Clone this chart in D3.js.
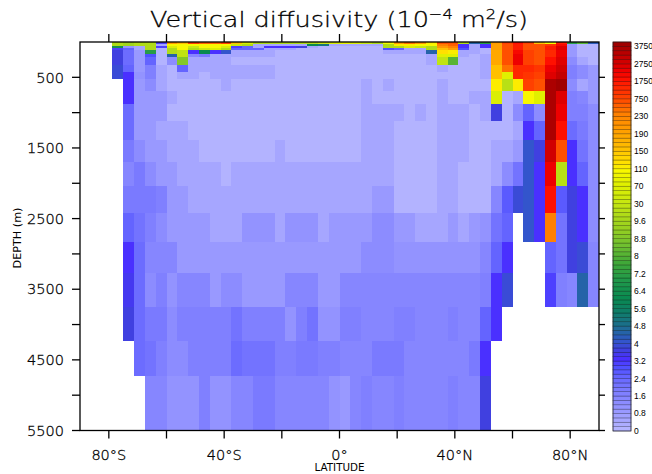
<!DOCTYPE html>
<html>
<head>
<meta charset="utf-8">
<script src="https://cdn.jsdelivr.net/npm/d3@7"></script>
<style>
  html, body { margin: 0; padding: 0; background: #fff; }
  svg { display: block; }
  text { font-family: "DejaVu Sans ExtraLight", "DejaVu Sans", sans-serif; font-weight: 200; fill: #000; }
  .thin { stroke: #000; stroke-width: 0.3px; }
</style>
</head>
<body>
<svg id="chart" width="652" height="474"></svg>
<script>
// grid cell edges (latitude columns from 78.75S, depth layers in m)
const latEdges = [-78.75, -75, -71.25, -67.5, -63.75, -60, -56.25, -52.5, -48.75, -45,
  -41.25, -37.5, -33.75, -30, -26.25, -22.5, -18.75, -15, -11.25, -7.5, -3.75, 0,
  3.75, 7.5, 11.25, 15, 18.75, 22.5, 26.25, 30, 33.75, 37.5, 41.25, 45, 48.75, 52.5,
  56.25, 60, 63.75, 67.5, 71.25, 75, 78.75, 82.5, 86.25, 90]
const depthEdges = [0, 32, 57, 85, 113, 165, 217, 326, 420, 524, 693, 877, 1118, 1387,
  1694, 2038, 2416, 2831, 3269, 3746, 4231, 4727, 5505]

// vertical diffusivity (1e-4 m2/s), one row per layer, null = land
const kv = [
  [9.8,9.5,9.8,9.8,3.0,  200,160,800,250,250,  900,150,60,9.8,9.8,  9.8,9.8,9.8,9.8,30,  60,80,60,30,9.8,  100,200,240,200,110,  700,700,9.8,4.5,7,  200,800,1800,800,150,  105,1500,7,8,4.3],
  [9.8,9.5,9.8,9.8,0.5,  100,105,105,105,105,  100,30,9.8,0.5,0.5,  0.5,0.5,0.5,6,5,  0.5,0.5,0.5,0.5,0.5,  9.8,110,110,100,105,  230,300,3.3,0.5,3.3,  190,700,1500,700,500,  1000,2000,0.9,0.1,0.1],
  [6.5,1.0,0.5,9.8,3.0,  60,105,30,105,105,  60,3.0,2.5,0.5,3.3,  3.3,3.3,3.7,0.5,0.1,  0.1,0.1,0.1,0.1,0.1,  9.8,9.8,60,30,9.8,  200,230,3.3,0.5,3.3,  190,700,1500,700,700,  1500,2500,0.9,0.1,0.1],
  [3.0,2.5,0.5,9.8,0.1,  9.8,100,9.8,30,60,  9.8,2.5,2.5,2.5,0.5,  0.5,0.5,0.1,0.1,0.1,  0.1,0.1,0.1,0.1,0.1,  2.9,2.5,0.5,0.5,9.8,  150,190,2.9,0.5,0.1,  190,700,1500,700,700,  1500,2500,0.9,0.1,0.1],
  [3.6,2.3,0.9,7.0,0.1,  9.8,25,3.3,6.0,3.3,  4.1,0.5,0.5,0.5,0.5,  0.1,0.1,0.1,0.1,0.1,  0.1,0.1,0.1,0.1,0.1,  0.5,0.5,0.5,0.5,4.5,  120,110,0.5,0.5,0.1,  180,700,2000,800,500,  1400,2300,0.9,0.1,0.1],
  [3.6,2.3,0.9,2.9,0.1,  4.5,20,1.5,1.9,0.5,  0.5,0.5,0.5,0.5,0.5,  0.1,0.1,0.1,0.1,0.1,  0.1,0.1,0.1,0.1,0.1,  0.1,0.1,0.1,0.1,0.5,  70,70,0.5,0.1,0.5,  180,700,2300,900,500,  1400,2300,0.9,0.1,0.1],
  [3.6,2.3,0.9,2.5,0.1,  1.3,8.8,0.5,0.5,0.5,  0.5,0.1,0.1,0.1,0.1,  0.1,0.1,0.1,0.1,0.1,  0.1,0.1,0.1,0.1,0.1,  0.1,0.1,0.1,0.1,0.5,  20,8.2,0.1,0.1,0.5,  180,700,2300,900,700,  1800,2500,1.3,0.5,0.1],
  [3.9,2.5,0.9,1.7,0.5,  0.1,2.5,0.5,0.5,0.5,  0.5,0.5,0.5,0.5,0.5,  0.1,0.1,0.1,0.1,0.1,  0.1,0.1,0.1,0.1,0.1,  0.1,0.1,0.1,0.1,0.1,  0.5,0.1,0.1,0.1,0.5,  150,240,1400,1300,1000,  2300,2800,1.7,1.3,0.9],
  [3.9,3.3,1.0,1.7,0.5,  0.1,0.5,0.5,0.1,0.5,  0.5,0.5,0.5,0.5,0.5,  0.1,0.1,0.1,0.1,0.1,  0.1,0.1,0.1,0.1,0.1,  0.1,0.1,0.1,0.1,0.1,  0.1,0.1,0.1,0.1,0.5,  150,70,1300,1200,900,  2600,3000,1.7,1.3,0.9],
  [null,3.3,0.9,1.3,0.5,  0.1,0.1,0.1,0.1,0.1,  0.5,0.1,0.1,0.1,0.1,  0.1,0.1,0.1,0.1,0.1,  0.1,0.1,0.1,0.5,0.1,  0.5,0.1,0.1,0.1,0.1,  0.5,0.1,0.1,0.1,0.1,  110,15,110,750,650,  3500,3800,1.3,0.5,0.9],
  [null,3.3,0.9,0.9,0.9,  0.5,0.1,0.1,0.1,0.1,  0.1,0.1,0.1,0.1,0.1,  0.1,0.1,0.1,0.1,0.1,  0.1,0.1,0.1,0.5,0.1,  0.1,0.1,0.1,0.1,0.1,  0.5,0.1,0.1,0.5,0.5,  60,0.1,0.5,100,70,  3500,2700,1.7,1.5,0.9],
  [null,2.2,0.9,0.9,0.9,  0.1,0.1,0.1,0.1,0.1,  0.1,0.1,0.1,0.1,0.1,  0.1,0.1,0.1,0.1,0.1,  0.1,0.1,0.1,0.5,0.5,  0.5,0.5,0.1,0.5,0.1,  0.5,0.5,0.5,0.1,0.5,  3.7,0.1,1.3,2.5,1.3,  3500,2300,1.7,1.7,1.3],
  [null,2.2,0.9,0.9,0.5,  0.5,0.5,0.1,0.1,0.1,  0.1,0.1,0.1,0.1,0.1,  0.1,0.1,0.1,0.1,0.1,  0.1,0.1,0.1,0.5,0.5,  0.5,0.1,0.1,0.1,0.1,  0.5,0.5,0.5,0.1,0.1,  0.1,0.1,0.5,3.3,2.5,  3500,1800,2.2,1.9,1.3],
  [null,1.9,1.3,0.9,0.9,  0.5,0.5,0.5,0.1,0.1,  0.1,0.1,0.1,0.1,0.1,  0.5,0.1,0.1,0.1,0.1,  0.1,0.1,0.1,0.5,0.5,  0.5,0.1,0.1,0.1,0.1,  0.5,0.5,0.5,0.1,0.1,  0.5,0.5,0.9,4.1,3.7,  2800,700,3.3,2.1,1.3],
  [null,1.5,1.9,1.3,0.9,  0.9,0.5,0.5,0.5,0.5,  0.1,0.5,0.5,0.5,0.5,  0.5,0.5,0.5,0.5,0.5,  0.5,0.5,0.5,0.5,0.5,  0.5,0.1,0.1,0.1,0.1,  0.5,0.5,0.1,0.1,0.1,  0.5,1.3,2.1,4.1,3.3,  2400,15,3.3,2.5,1.3],
  [null,1.9,1.9,1.9,1.7,  0.9,0.9,0.5,0.5,0.5,  0.5,0.5,0.5,0.5,0.5,  0.5,0.5,0.5,0.5,0.5,  0.5,0.5,0.5,0.5,0.9,  0.9,0.1,0.1,0.1,0.1,  0.5,0.5,0.1,0.1,0.1,  1.5,2.7,3.9,4.1,3.3,  1800,2.7,3.7,3.3,1.3],
  [null,2.5,2.1,1.7,1.3,  0.9,0.9,0.9,0.9,0.5,  0.5,0.5,1.0,1.0,1.0,  0.5,1.0,1.0,1.0,0.5,  0.9,0.9,0.9,0.9,1.3,  1.3,0.9,0.9,0.5,0.5,  0.5,0.9,0.5,0.9,1.2,  2.1,2.5,null,4.1,3.3,  230,2.1,3.7,3.3,1.3],
  [null,3.3,2.2,1.5,1.5,  1.5,0.9,0.9,0.9,0.9,  0.9,0.9,0.9,0.9,0.9,  0.9,0.9,0.9,0.9,0.9,  0.9,0.9,0.9,1.3,1.3,  1.3,1.0,1.0,1.0,1.0,  1.0,1.0,1.0,1.0,1.5,  2.5,3.3,null,null,null,  2.5,2.1,3.7,3.9,1.5],
  [null,3.5,2.2,1.3,1.7,  1.0,1.5,1.5,1.5,0.9,  1.3,1.3,0.9,0.9,0.9,  0.9,1.5,1.5,1.5,0.9,  0.9,1.5,1.5,1.5,1.5,  1.5,1.5,1.5,1.5,1.5,  1.5,1.5,1.5,1.5,1.7,  3.3,3.9,null,null,null,  3.1,1.7,1.5,4.5,1.5],
  [null,3.7,2.2,1.9,1.9,  1.3,1.6,1.6,1.6,1.6,  1.6,2.0,1.6,1.6,1.6,  1.6,1.1,1.7,2.0,1.0,  1.0,1.7,1.7,1.5,1.5,  1.5,1.7,1.7,1.5,1.5,  1.5,1.7,1.5,1.5,2.5,  3.3,null,null,null,null,  null,null,null,null,null],
  [null,null,2.2,2.0,1.7,  1.3,1.3,1.6,1.6,1.6,  1.6,2.2,2.0,2.0,2.0,  1.6,1.6,1.9,1.9,1.7,  1.7,1.5,1.5,1.5,1.9,  1.9,1.9,1.5,1.5,1.5,  1.5,1.5,1.5,1.9,3.3,  null,null,null,null,null,  null,null,null,null,null],
  [null,null,null,1.5,1.5,  1.0,1.0,1.0,1.7,1.0,  1.0,1.5,1.5,1.9,1.9,  1.5,1.5,1.5,1.5,1.5,  1.0,0.9,1.5,1.7,1.5,  1.5,1.7,1.5,1.5,1.5,  1.5,1.7,1.5,1.5,3.7,  null,null,null,null,null,  null,null,null,null,null]
]

// colour levels of the key
const levels = d3.range(0, 10, 0.2).concat(d3.range(10, 250, 10), d3.range(250, 4001, 250))
const levelLabels = ['0', '0.8', '1.6', '2.4', '3.2', '4', '4.8', '5.6', '6.4', '7.2', '8', '8.8',
  '9.6', '30', '70', '110', '150', '190', '230', '750', '1750', '2750', '3750']

// palette anchors (key box index -> colour)
const paletteIdx = [0, 2, 4, 6, 8, 10, 12, 14, 16, 18, 20, 22, 24, 27, 30, 34, 38, 42, 46, 49,
  52, 56, 59, 61, 64, 68, 72, 74, 76, 78, 80, 82, 84, 86, 88]
const paletteColors = ['#b3b3ff', '#a6a6ff', '#9999ff', '#8c8cff', '#8080ff', '#7373ff', '#6464ff',
  '#5050ff', '#4a30ff', '#4040e0', '#3355cc', '#2563a8', '#1a7088', '#0e7e66', '#0a8a50', '#20984a',
  '#40a838', '#70c030', '#98d020', '#b0dc18', '#c8e810', '#e0f000', '#f8f800', '#ffe000', '#ffc000',
  '#ffa000', '#ff8000', '#ff6000', '#ff4000', '#ff2800', '#ff1000', '#ee0000', '#d00000', '#b80000',
  '#a00000']

const latTicks = [-80, -60, -40, -20, 0, 20, 40, 60, 80]
const latLabels = [[-80, '80°S'], [-40, '40°S'], [0, '0°'], [40, '40°N'], [80, '80°N']]
const depthTicks = [500, 1000, 1500, 2000, 2500, 3000, 3500, 4000, 4500, 5000, 5500]
const depthLabels = [500, 1500, 2500, 3500, 4500, 5500]

const svg = d3.select('#chart')

const x = d3.scaleLinear().domain([-90, 90]).range([80, 599])
const y = d3.scaleLinear().domain([0, 5500]).range([42, 430.5])

const nBox = levels.length - 1
const boxColor = d3.scaleLinear().domain(paletteIdx).range(paletteColors).interpolate(d3.interpolateRgb)

function colorOf(v) {
    let i = d3.bisectRight(levels, v) - 1
    i = Math.max(0, Math.min(nBox - 1, i))
    return boxColor(i)
}

// cells
let cells = []
kv.forEach(function (row, r) {
    row.forEach(function (v, j) {
        if (v !== null) cells.push({ r: r, j: j, v: v })
    })
})

svg.append('defs').append('clipPath').attr('id', 'plotClip')
    .append('rect')
    .attr('x', x(-90)).attr('y', y(0))
    .attr('width', x(90) - x(-90)).attr('height', y(5500) - y(0))

svg.append('g')
    .attr('clip-path', 'url(#plotClip)')
    .attr('shape-rendering', 'crispEdges')
    .selectAll('rect')
    .data(cells)
    .join('rect')
    .attr('x', (d) => x(latEdges[d.j]))
    .attr('y', (d) => y(depthEdges[d.r]))
    .attr('width', (d) => x(latEdges[d.j + 1]) - x(latEdges[d.j]))
    .attr('height', (d) => y(depthEdges[d.r + 1]) - y(depthEdges[d.r]))
    .attr('fill', (d) => colorOf(d.v))

// frame
svg.append('rect')
    .attr('x', x(-90)).attr('y', y(0))
    .attr('width', x(90) - x(-90)).attr('height', y(5500) - y(0))
    .attr('fill', 'none').attr('stroke', '#000').attr('stroke-width', 1.3)

// ticks
const ticks = svg.append('g').attr('stroke', '#000').attr('stroke-width', 1.3)
ticks.selectAll('.tl').data(depthTicks).join('line').attr('class', 'tl')
    .attr('x1', x(-90) - 8).attr('x2', x(-90)).attr('y1', (d) => y(d)).attr('y2', (d) => y(d))
ticks.selectAll('.tr').data(depthTicks).join('line').attr('class', 'tr')
    .attr('x1', x(90)).attr('x2', x(90) + 6).attr('y1', (d) => y(d)).attr('y2', (d) => y(d))
ticks.selectAll('.tb').data(latTicks).join('line').attr('class', 'tb')
    .attr('x1', (d) => x(d)).attr('x2', (d) => x(d)).attr('y1', y(5500)).attr('y2', y(5500) + 8)
ticks.selectAll('.tt').data(latTicks).join('line').attr('class', 'tt')
    .attr('x1', (d) => x(d)).attr('x2', (d) => x(d)).attr('y1', y(0) - 8).attr('y2', y(0))

// tick labels
svg.append('g').selectAll('text').data(depthLabels).join('text')
    .attr('class', 'thin')
    .attr('x', 64).attr('y', (d) => y(d))
    .attr('dy', '0.36em')
    .attr('text-anchor', 'end')
    .attr('font-size', 14.5)
    .text((d) => d)

svg.append('g').selectAll('text').data(latLabels).join('text')
    .attr('class', 'thin')
    .attr('x', (d) => x(d[0])).attr('y', 460)
    .attr('text-anchor', 'middle')
    .attr('font-size', 14.5)
    .text((d) => d[1])

svg.append('text')
    .attr('x', x(0)).attr('y', 471)
    .attr('text-anchor', 'middle')
    .attr('font-size', 10)
    .style('font-family', '"DejaVu Sans", sans-serif')
    .style('font-weight', 400)
    .attr('textLength', 50).attr('lengthAdjust', 'spacingAndGlyphs')
    .text('LATITUDE')

svg.append('text')
    .attr('transform', 'translate(21,238) rotate(-90)')
    .attr('text-anchor', 'middle')
    .attr('font-size', 11)
    .style('font-family', '"DejaVu Sans", sans-serif')
    .style('font-weight', 400)
    .attr('textLength', 61).attr('lengthAdjust', 'spacingAndGlyphs')
    .text('DEPTH (m)')

// title
const title = svg.append('text')
    .attr('class', 'thin')
    .attr('x', 339).attr('y', 27)
    .attr('text-anchor', 'middle')
    .attr('font-size', 22)
    .attr('textLength', 378).attr('lengthAdjust', 'spacingAndGlyphs')
title.append('tspan').text('Vertical diffusivity (10')
title.append('tspan').attr('dy', -8).attr('font-size', 14).text('\u22124')
title.append('tspan').attr('dy', 8).text(' m')
title.append('tspan').attr('dy', -8).attr('font-size', 14).text('2')
title.append('tspan').attr('dy', 8).text('/s)')

// colour key
const barX = 613, barW = 18
const yBar = d3.scaleLinear().domain([0, nBox]).range([431, 42])

const key = svg.append('g')
key.selectAll('rect')
    .data(d3.range(nBox))
    .join('rect')
    .attr('x', barX)
    .attr('y', (d) => yBar(d + 1))
    .attr('width', barW)
    .attr('height', (d) => yBar(d) - yBar(d + 1))
    .attr('fill', (d) => boxColor(d))
    .attr('stroke', (d) => d3.color(boxColor(d)).darker(1.6))
    .attr('stroke-width', 0.6)

key.append('rect')
    .attr('x', barX).attr('y', yBar(nBox))
    .attr('width', barW).attr('height', yBar(0) - yBar(nBox))
    .attr('fill', 'none').attr('stroke', '#222').attr('stroke-width', 0.6)

key.selectAll('text')
    .data(levelLabels)
    .join('text')
    .attr('x', barX + barW + 3)
    .attr('y', (d, i) => yBar(i * 4))
    .attr('dy', '0.35em')
    .style('font-family', '"Liberation Sans", Arial, sans-serif')
    .style('font-weight', 400)
    .attr('font-size', 8.5)
    .text((d) => d)
</script>
</body>
</html>
